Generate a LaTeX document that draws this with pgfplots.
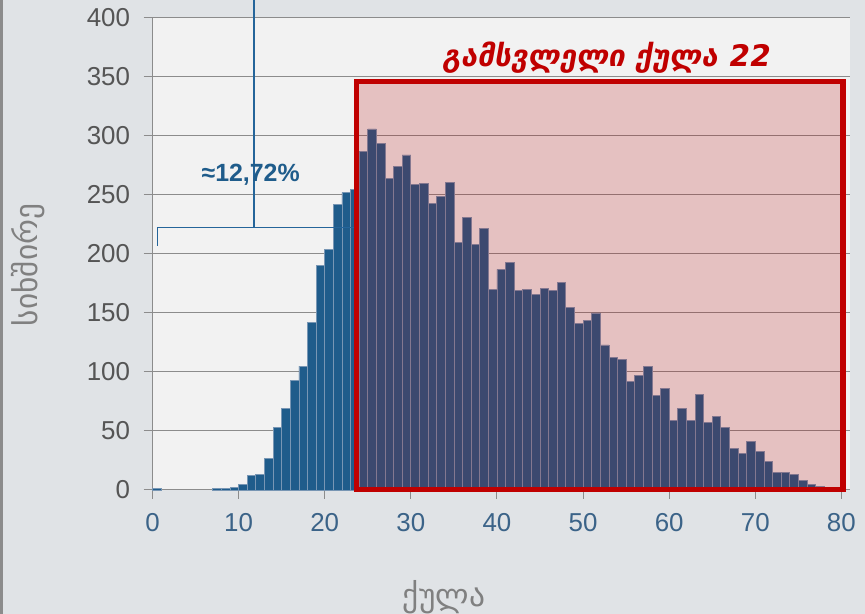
\documentclass[border=0pt]{standalone}
\usepackage{pgfplots}
\pgfplotsset{compat=1.18}
\usepackage{pgfplotstable}
\usepackage{fontspec}
\usepackage{graphicx}
\setmainfont{Liberation Sans}
\newfontfamily\geo{DejaVu Sans}
\newfontfamily\geotitle[FakeSlant=0.18]{DejaVu Sans Bold}
\definecolor{outerbg}{HTML}{E0E3E6}
\definecolor{plotbg}{HTML}{F2F2F2}
\definecolor{barblue}{HTML}{1F5C8B}
\definecolor{baredge}{RGB}{120,150,180}
\definecolor{gridc}{HTML}{8C8C8C}
\definecolor{boxred}{HTML}{C00000}
\definecolor{ovred}{RGB}{180,0,0}
\definecolor{annot}{HTML}{25659A}
\definecolor{xtickc}{HTML}{3B6388}
\definecolor{ytickc}{HTML}{555555}
\definecolor{labc}{HTML}{808080}

\pgfplotstableread{
x y
0.5 1
7.5 1
8.5 1
9.5 2
10.5 5
11.5 12
12.5 13
13.5 27
14.5 53
15.5 69
16.5 93
17.5 105
18.5 142
19.5 190
20.5 204
21.5 242
22.5 252
23.5 255
24.5 287
25.5 306
26.5 294
27.5 264
28.5 274
29.5 284
30.5 259
31.5 260
32.5 243
33.5 249
34.5 261
35.5 210
36.5 231
37.5 208
38.5 222
39.5 170
40.5 187
41.5 193
42.5 169
43.5 170
44.5 166
45.5 171
46.5 169
47.5 176
48.5 155
49.5 141
50.5 144
51.5 150
52.5 123
53.5 112
54.5 111
55.5 92
56.5 97
57.5 105
58.5 80
59.5 86
60.5 59
61.5 69
62.5 59
63.5 81
64.5 57
65.5 62
66.5 53
67.5 35
68.5 31
69.5 41
70.5 33
71.5 24
72.5 15
73.5 15
74.5 13
75.5 8
76.5 5
77.5 3
78.5 2
79.5 1
}\histdata

\begin{document}
\begin{tikzpicture}[x=1bp,y=1bp]
\useasboundingbox (0,0) rectangle (865,614);
\fill[outerbg] (0,0) rectangle (865,614);
\fill[gray!90] (0,0) rectangle (3,614);
\begin{axis}[
  at={(152.5bp,124bp)}, anchor=south west,
  width=697.5bp, height=472bp, scale only axis,
  xmin=0, xmax=81, ymin=0, ymax=400,
  xtick={0,10,...,80}, ytick={0,50,...,400},
  axis x line*=bottom, axis y line*=left,
  axis line style={gridc, line width=1bp},
  tick align=outside, major tick length=9bp,
  tick style={gridc, line width=1bp},
  ymajorgrids, grid style={gridc, line width=1bp},
  axis background/.style={fill=plotbg},
  clip=false,
  /pgf/number format/assume math mode=true,
  xticklabel style={font=\fontsize{26}{26}\selectfont, text=xtickc, yshift=-11bp},
  yticklabel style={font=\fontsize{26}{26}\selectfont, text=ytickc, xshift=-10bp},
  ybar, bar width=1, bar shift=0,
]
\addplot[fill=barblue, draw=baredge, line width=0.7bp] table[x=x,y=y] {\histdata};
\fill[ovred, fill opacity=0.2] (axis cs:23.7,0) rectangle (axis cs:80.2,346);
\draw[annot, line width=1.4bp] (axis cs:0.6,207) -- (axis cs:0.6,222.3) -- (axis cs:23.7,222.3);
\draw[annot, line width=1.4bp] (axis cs:11.77,222.3) -- (axis cs:11.77,416);
\draw[boxred, line width=5.5bp] (axis cs:23.7,0.3) rectangle (axis cs:80.2,346);
\node[text=barblue, font=\bfseries\fontsize{25}{25}\selectfont] at (axis cs:11.4,267) {≈12,72\%};
\node[text=boxred, anchor=base, inner sep=0pt] at (axis cs:52.6,359.3) {\resizebox{327bp}{!}{\geotitle გამსვლელი ქულა 22}};
\end{axis}
\node[text=labc, rotate=90, anchor=base, inner sep=0pt] at (37,349) {\resizebox{122bp}{!}{\geo სიხშირე}};
\node[text=labc, anchor=base, inner sep=0pt] at (444,7) {\resizebox{82bp}{!}{\geo ქულა}};
\end{tikzpicture}
\end{document}
